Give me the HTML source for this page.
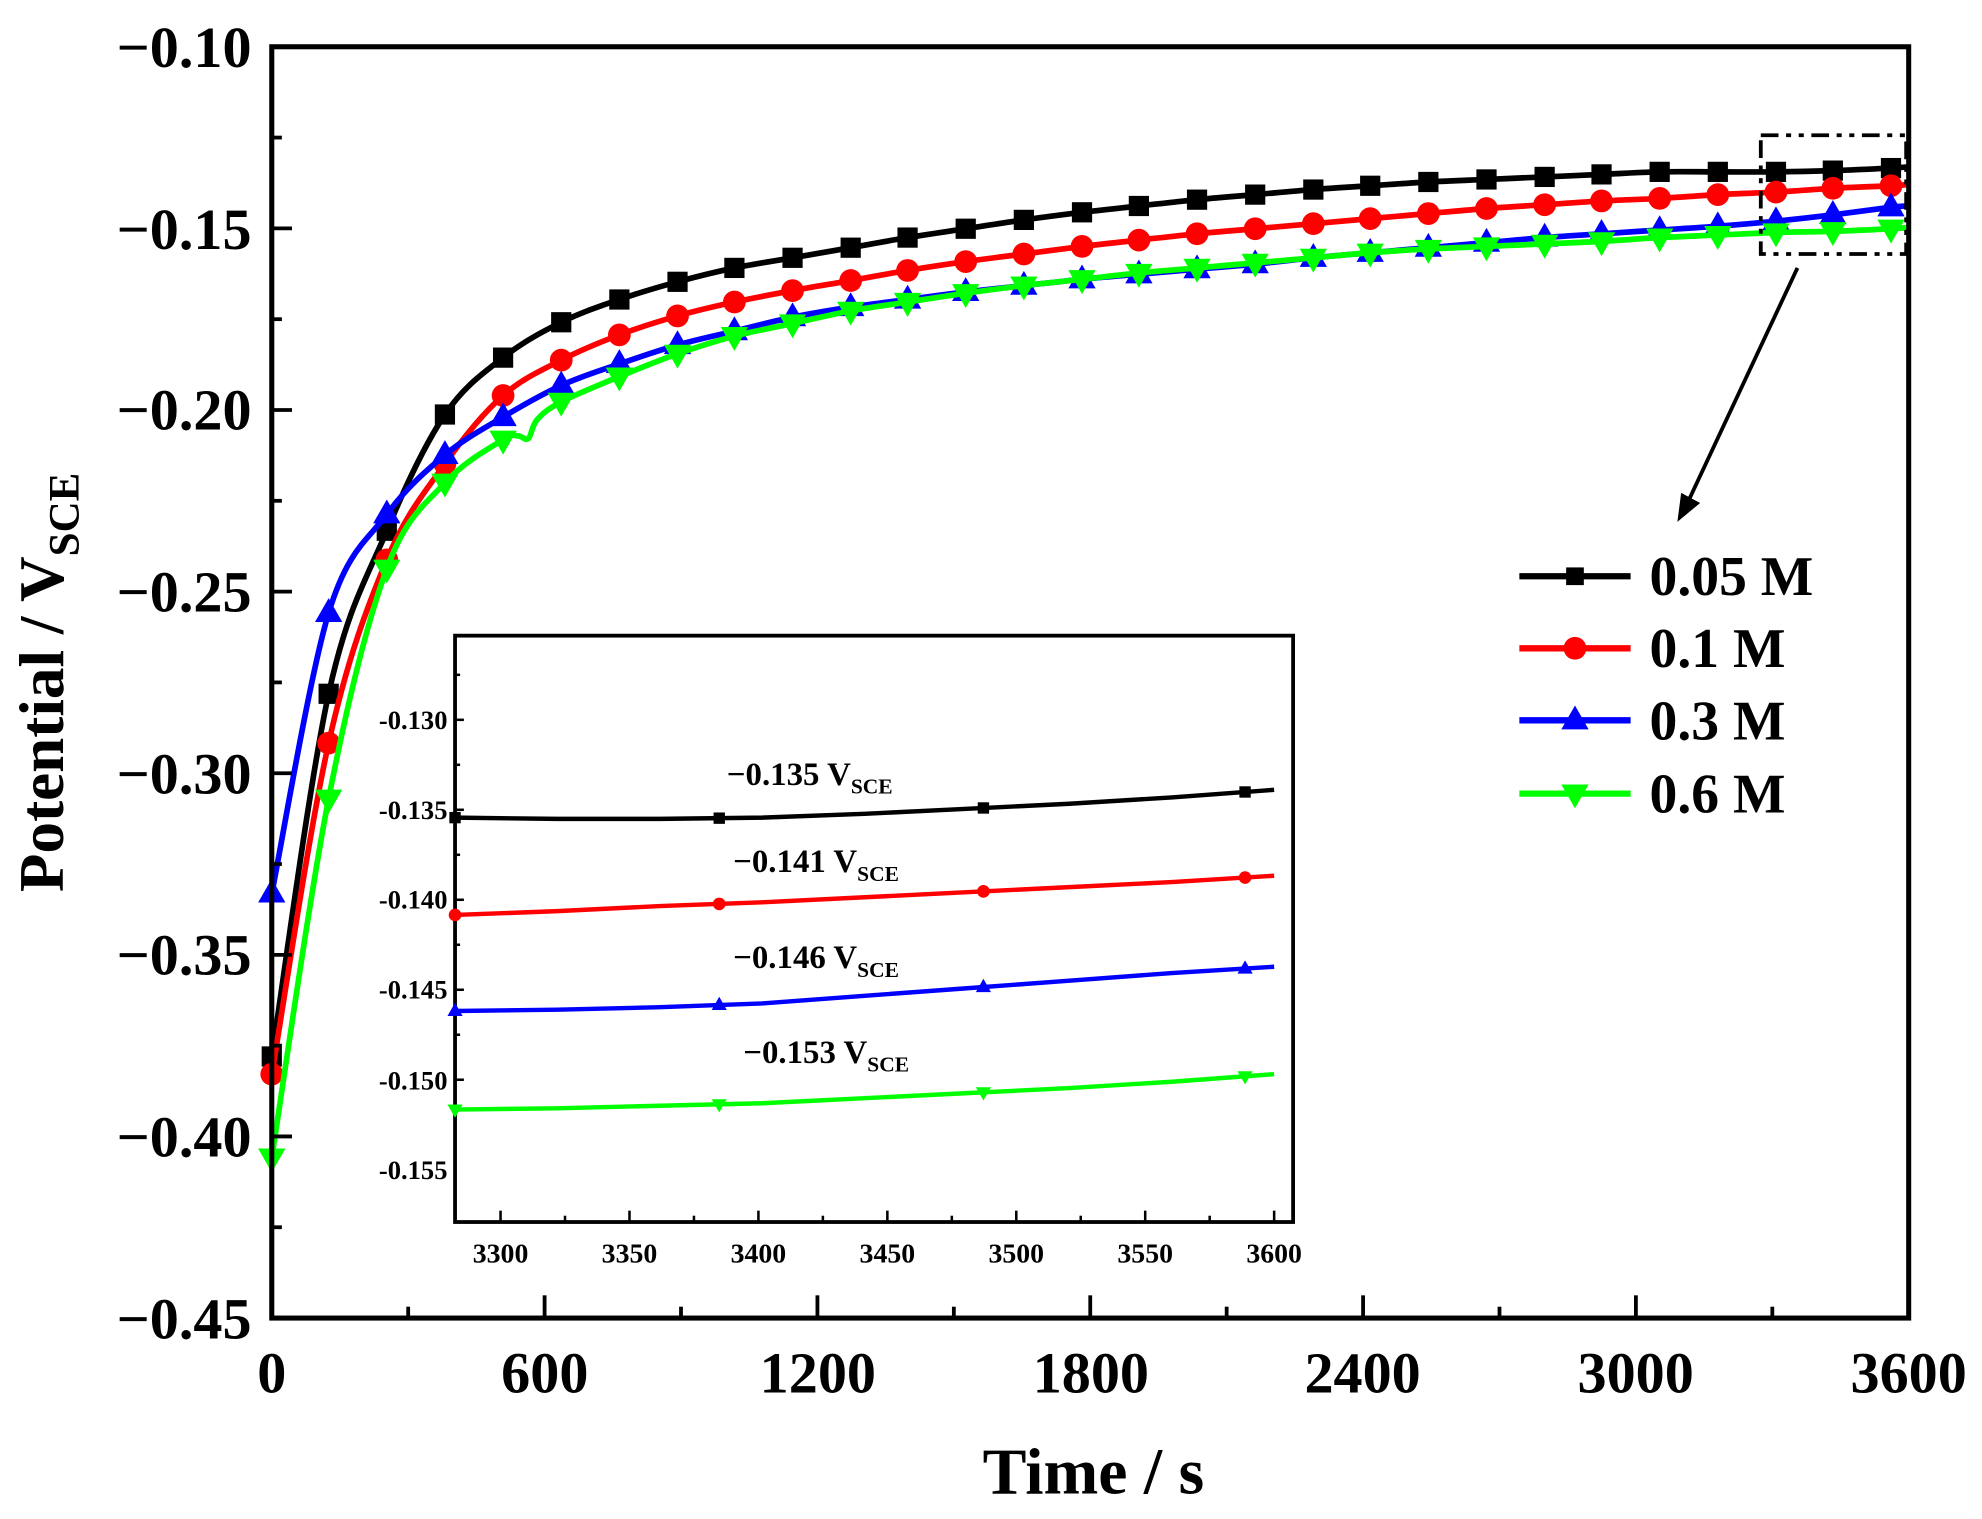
<!DOCTYPE html>
<html><head><meta charset="utf-8"><style>
html,body{margin:0;padding:0;background:#fff;}
svg{display:block;}
text{font-family:"Liberation Serif",serif;font-weight:bold;fill:#000;}
</style></head><body>
<svg id="s" width="1982" height="1519" viewBox="0 0 1568 1202" preserveAspectRatio="none" xmlns="http://www.w3.org/2000/svg">
<rect width="1568" height="1202" fill="#fff"/>
<g id="main"></g>
<rect x="215" y="37" width="1295" height="1006" fill="none" stroke="#000" stroke-width="4"/>
<g id="ticks" stroke="#000" stroke-width="3"></g>
<g font-size="46" text-anchor="end">
<text x="199" y="53">−0.10</text><text x="199" y="197">−0.15</text><text x="199" y="340">−0.20</text>
<text x="199" y="484">−0.25</text><text x="199" y="628">−0.30</text><text x="199" y="771">−0.35</text>
<text x="199" y="915">−0.40</text><text x="199" y="1059">−0.45</text>
</g>
<g font-size="46" text-anchor="middle">
<text x="215" y="1102">0</text><text x="431" y="1102">600</text><text x="647" y="1102">1200</text>
<text x="863" y="1102">1800</text><text x="1078" y="1102">2400</text><text x="1294" y="1102">3000</text><text x="1510" y="1102">3600</text>
</g>
<text x="865" y="1182" font-size="52" text-anchor="middle">Time / s</text>
<text transform="translate(50,540) rotate(-90)" font-size="50" text-anchor="middle">Potential / V<tspan font-size="34" dy="12">SCE</tspan></text>
<rect x="1393" y="107" width="115" height="94" fill="none" stroke="#000" stroke-width="3" stroke-dasharray="14,6,4,6,4,6"/>
<line x1="1422" y1="212" x2="1335" y2="398" stroke="#000" stroke-width="3"/>
<polygon points="1327,413 1330,390 1345,398" fill="#000"/>
<g id="legend"></g>
<g font-size="44">
<text x="1305" y="471">0.05 M</text><text x="1305" y="528">0.1 M</text>
<text x="1305" y="585">0.3 M</text><text x="1305" y="643">0.6 M</text>
</g>
<rect x="360" y="503" width="663" height="464" fill="#fff" stroke="#000" stroke-width="3"/>
<g id="inset"></g>
<g font-size="21" text-anchor="end">
<text x="354" y="577">-0.130</text><text x="354" y="648">-0.135</text><text x="354" y="719">-0.140</text>
<text x="354" y="790">-0.145</text><text x="354" y="862">-0.150</text><text x="354" y="933">-0.155</text>
</g>
<g font-size="22" text-anchor="middle">
<text x="396" y="999">3300</text><text x="498" y="999">3350</text><text x="600" y="999">3400</text>
<text x="702" y="999">3450</text><text x="804" y="999">3500</text><text x="906" y="999">3550</text><text x="1008" y="999">3600</text>
</g>
<g font-size="26">
<text x="575" y="621">−0.135 V<tspan font-size="17" dy="7">SCE</tspan></text>
<text x="580" y="690">−0.141 V<tspan font-size="17" dy="7">SCE</tspan></text>
<text x="580" y="766">−0.146 V<tspan font-size="17" dy="7">SCE</tspan></text>
<text x="588" y="841">−0.153 V<tspan font-size="17" dy="7">SCE</tspan></text>
</g>
</svg>
<script>
const NS="http://www.w3.org/2000/svg";
function el(p,tag,attrs){const e=document.createElementNS(NS,tag);for(const k in attrs)e.setAttribute(k,attrs[k]);p.appendChild(e);return e;}
function marker(g,type,x,y,s,c){
 if(type=="sq")el(g,"rect",{x:x-s,y:y-s,width:2*s,height:2*s,fill:c});
 else if(type=="ci")el(g,"circle",{cx:x,cy:y,r:s,fill:c});
 else if(type=="up")el(g,"polygon",{points:`${x},${y-s*1.3} ${x-s*1.2},${y+s*0.8} ${x+s*1.2},${y+s*0.8}`,fill:c});
 else el(g,"polygon",{points:`${x},${y+s*1.3} ${x-s*1.2},${y-s*0.8} ${x+s*1.2},${y-s*0.8}`,fill:c});
}
const xs=[215,260,306,352,398,444,490,536,581,627,673,718,764,810,856,901,947,993,1039,1084,1130,1176,1222,1267,1313,1359,1405,1450,1496];
const S=[
 {c:"#000",t:"sq",y:[836,549,420,328,283,255,237,223,212,204,196,188,181,174,168,163,158,154,150,147,144,142,140,138,136,136,136,135,133]},
 {c:"#f00",t:"ci",y:[850,588,443,367,313,285,265,250,239,230,222,214,207,201,195,190,185,181,177,173,169,165,162,159,157,154,152,149,147]},
 {c:"#00f",t:"up",y:[707,485,407,360,330,305,288,273,262,251,243,237,231,226,221,217,213,209,204,200,196,192,188,185,182,179,175,170,164]},
 {c:"#0f0",t:"dn",y:[916,632,450,382,348,318,298,280,266,256,246,239,232,226,221,216,212,208,204,200,197,195,193,191,188,186,184,183,181]}
];
const main=document.getElementById("main");
function smooth(pts){let d=`M${pts[0][0]},${pts[0][1]}`;for(let i=0;i<pts.length-1;i++){const p0=pts[Math.max(0,i-1)],p1=pts[i],p2=pts[i+1],p3=pts[Math.min(pts.length-1,i+2)];
 d+=` C${p1[0]+(p2[0]-p0[0])/6},${p1[1]+(p2[1]-p0[1])/6} ${p2[0]-(p3[0]-p1[0])/6},${p2[1]-(p3[1]-p1[1])/6} ${p2[0]},${p2[1]}`;}return d;}
S.forEach((s,k)=>{
 let pts=xs.map((x,i)=>[x,s.y[i]]);pts.push([1510,s.y[28]-1]);
 if(k==3){pts.splice(5,0,[410,345],[418,347],[425,332]);}
 el(main,"path",{d:smooth(pts),fill:"none",stroke:s.c,"stroke-width":4.5});
 xs.forEach((x,i)=>{marker(main,s.t,x,s.y[i],s.t=="sq"?8:9,s.c);});
});
const tk=document.getElementById("ticks");
for(let i=0;i<=14;i++){const y=37+i*71.857;const l=i%2==0?16:8;el(tk,"line",{x1:215,y1:y,x2:215+l,y2:y});}
for(let i=0;i<=12;i++){const x=215+i*107.92;const l=i%2==0?18:9;el(tk,"line",{x1:x,y1:1043,x2:x,y2:1043-l});}
const lg=document.getElementById("legend");
[456,513,570,628].forEach((y,i)=>{el(lg,"line",{x1:1202,y1:y,x2:1290,y2:y,stroke:S[i].c,"stroke-width":5});marker(lg,S[i].t,1246,y,S[i].t=="sq"?7:9,S[i].c);});
const ins=document.getElementById("inset");
const iy=[[647,648,648,647,644,640,636,631,625],[724,721,717,714,710,706,702,698,693],[800,799,797,794,788,782,776,770,765],[878,877,875,873,869,865,861,856,850]];
const ixs=[360,441,522,603,684,765,846,927,1008];
const mx=[360,569,778,985];
iy.forEach((ys,k)=>{
 el(ins,"polyline",{points:ixs.map((x,i)=>x+","+ys[i]).join(" "),fill:"none",stroke:S[k].c,"stroke-width":3.5});
 mx.forEach(x=>{let j=0;while(j<ixs.length-2&&ixs[j+1]<x)j++;const f=(x-ixs[j])/(ixs[j+1]-ixs[j]);const y=ys[j]+f*(ys[j+1]-ys[j]);marker(ins,S[k].t,x,y,S[k].t=="sq"?4.5:5,S[k].c);});
});
for(let i=0;i<=9;i++){const y=534+i*35.6;const l=(i%2==1)?7:4;el(ins,"line",{x1:360,y1:y,x2:360+l,y2:y,stroke:"#000","stroke-width":2});}
for(let i=0;i<=13;i++){const x=396+i*51;if(x>1022)break;const l=i%2==0?9:5;el(ins,"line",{x1:x,y1:967,x2:x,y2:967-l,stroke:"#000","stroke-width":2});}
</script>
</body></html>
